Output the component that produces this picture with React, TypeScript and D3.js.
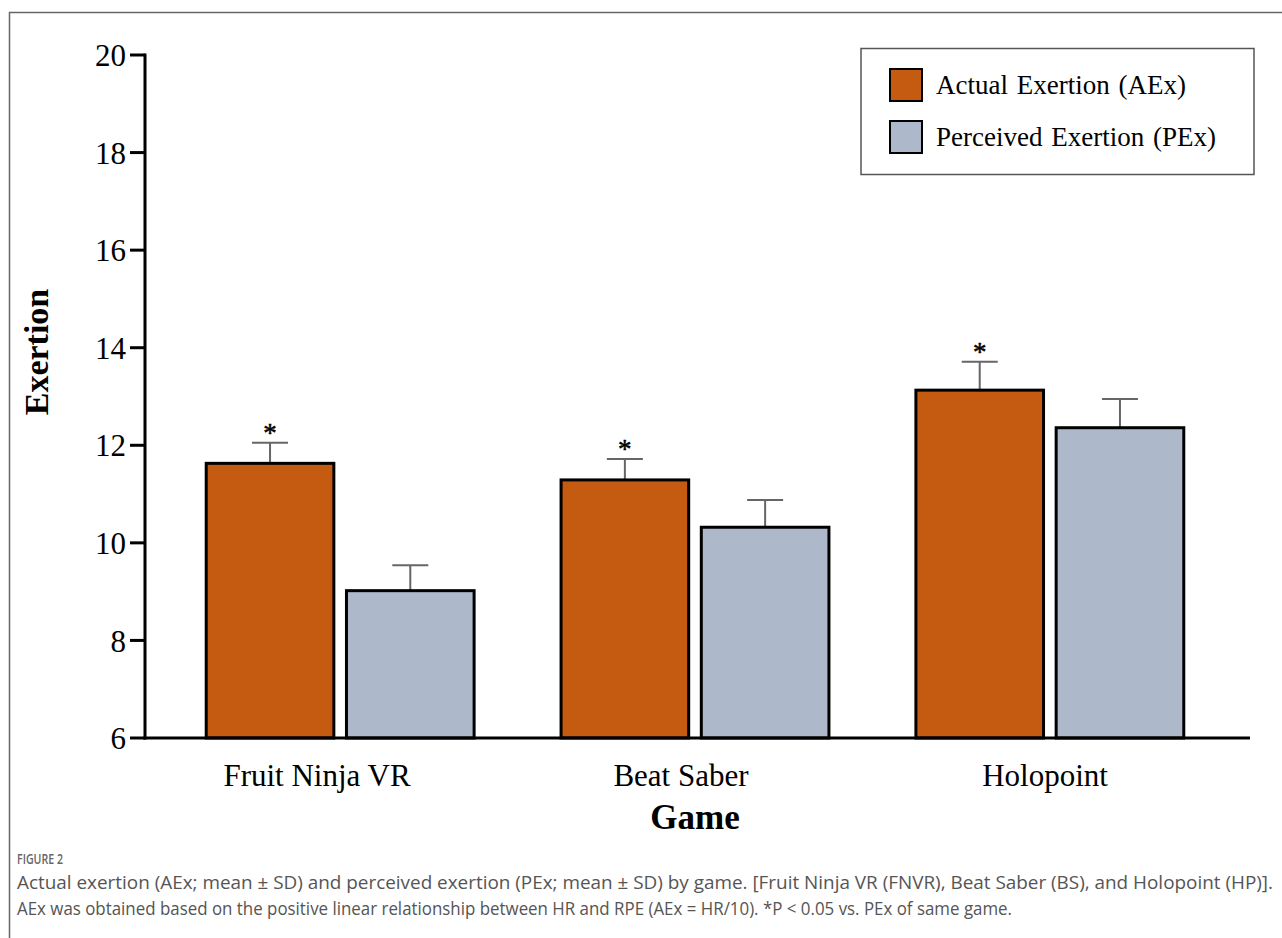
import React from "react";
import * as d3 from "d3";

const games = ["Fruit Ninja VR", "Beat Saber", "Holopoint"];
const series = ["Actual Exertion (AEx)", "Perceived Exertion (PEx)"];
const aexMean = [11.63, 11.29, 13.13];
const aexSD = [0.42, 0.43, 0.58];
const pexMean = [9.02, 10.32, 12.36];
const pexSD = [0.52, 0.56, 0.59];
const significant = [true, true, true];
const yTicks = [6, 8, 10, 12, 14, 16, 18, 20];
const colors = ["#C55A11", "#ADB9CA"];
const captionTitle = "FIGURE 2";
const captionLines = [
  "Actual exertion (AEx; mean \u00b1 SD) and perceived exertion (PEx; mean \u00b1 SD) by game. [Fruit Ninja VR (FNVR), Beat Saber (BS), and Holopoint (HP)].",
  "AEx was obtained based on the positive linear relationship between HR and RPE (AEx = HR/10). *P < 0.05 vs. PEx of same game.",
];
const captionWidths = [1256, 995];

export default function App() {
  const W = 1282, H = 938;
  const x0 = 145, x1 = 1245, xAxisEnd = 1250, yTop = 55, yBot = 738;
  const y = d3.scaleLinear().domain([6, 20]).range([yBot, yTop]);
  const xg = d3.scaleBand().domain(games).range([x0, x1]).paddingInner(0).paddingOuter(0.05);
  const xs = d3.scaleBand().domain(series).range([0, xg.bandwidth()]).paddingInner(0.09).paddingOuter(0.31);
  const xl = d3.scalePoint().domain(games).range([317, 1045]);
  const means = [aexMean, pexMean];
  const sds = [aexSD, pexSD];
  const serif = "'Liberation Serif', 'Times New Roman', serif";
  const sans = "'Open Sans', 'Noto Sans', sans-serif";
  return (
    <svg width={W} height={H} style={{ position: "absolute", left: 0, top: 0, background: "#fff" }}>
      <rect x={0} y={0} width={W} height={H} fill="#fff" />
      <path d={`M9.5,${H} V12.5 H${W}`} fill="none" stroke="#666" strokeWidth={1.5} />
      {/* bars */}
      {games.map((g, gi) =>
        series.map((s, si) => {
          const bx = (xg(g) as number) + (xs(s) as number);
          const bw = xs.bandwidth();
          const m = means[si][gi];
          const sd = sds[si][gi];
          const cx = bx + bw / 2;
          return (
            <g key={g + s}>
              <line x1={cx} x2={cx} y1={y(m)} y2={y(m + sd)} stroke="#666" strokeWidth={2} />
              <line x1={cx - 18} x2={cx + 18} y1={y(m + sd)} y2={y(m + sd)} stroke="#666" strokeWidth={2} />
              <rect x={bx} y={y(m)} width={bw} height={y(6) - y(m)} fill={colors[si]} stroke="#000" strokeWidth={3} />
              {si === 0 && significant[gi] && (
                <text x={cx} y={y(m + sd) - 1} textAnchor="middle" fontFamily={serif} fontSize={27} fill="#000" stroke="#000" strokeWidth={0.5}>*</text>
              )}
            </g>
          );
        })
      )}
      {/* axes */}
      <line x1={x0} x2={x0} y1={yTop - 1.5} y2={yBot + 1.5} stroke="#000" strokeWidth={3} />
      <line x1={x0 - 1.5} x2={xAxisEnd} y1={yBot} y2={yBot} stroke="#000" strokeWidth={3} />
      {yTicks.map((t) => (
        <g key={t}>
          <line x1={x0 - 15} x2={x0} y1={y(t)} y2={y(t)} stroke="#000" strokeWidth={3} />
          <text x={x0 - 19} y={y(t)} dy="0.36em" textAnchor="end" fontFamily={serif} fontSize={31} fill="#000">{t}</text>
        </g>
      ))}
      {games.map((g) => (
        <text key={g} x={xl(g) as number} y={786} textAnchor="middle" fontFamily={serif} fontSize={31} fill="#000">{g}</text>
      ))}
      <text x={695} y={829} textAnchor="middle" fontFamily={serif} fontSize={35} fontWeight="bold" fill="#000">Game</text>
      <text transform={`translate(48,352) rotate(-90)`} textAnchor="middle" fontFamily={serif} fontSize={34} fontWeight="bold" fill="#000">Exertion</text>
      {/* legend */}
      <rect x={861} y={48.5} width={393} height={126} fill="#fff" stroke="#555" strokeWidth={1.5} />
      {series.map((s, si) => (
        <g key={s}>
          <rect x={890} y={69 + si * 52} width={32} height={32} fill={colors[si]} stroke="#000" strokeWidth={2} />
          <text x={936} y={85 + si * 52} dy="0.35em" fontFamily={serif} fontSize={27} wordSpacing={2} fill="#000">{s}</text>
        </g>
      ))}
      {/* caption */}
      <text x={17} y={864} fontFamily={sans} fontSize={15} fontWeight={600} fill="#666" textLength={46} lengthAdjust="spacingAndGlyphs">{captionTitle}</text>
      {captionLines.map((l, i) => (
        <text key={i} x={17} y={889 + i * 26} fontFamily={sans} fontSize={18} fill="#555" textLength={captionWidths[i]} lengthAdjust="spacingAndGlyphs">{l}</text>
      ))}
    </svg>
  );
}
